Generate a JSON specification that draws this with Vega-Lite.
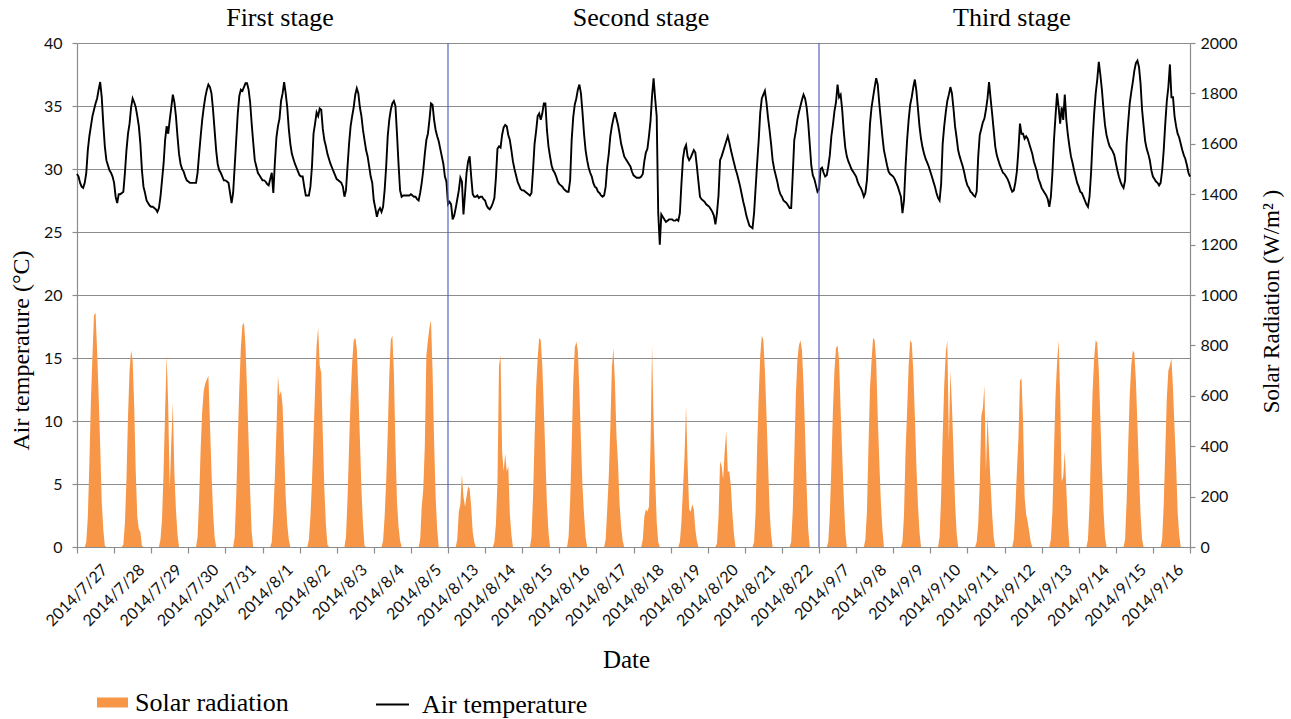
{
"$schema": "https://vega.github.io/schema/vega-lite/v6.json",
"width": 1113,
"height": 504,
"autosize": "none",
"padding": {"left": 77, "top": 43, "right": 101, "bottom": 172},
"background": "white",
"config": {"view": {"stroke": null}, "font": "Liberation Serif"},
"datasets": {
"series": [
{"t":0,"T":29.6,"R":0},{"t":1,"T":29.4,"R":0},{"t":2,"T":28.9,"R":0},{"t":3,"T":28.6,"R":0},{"t":4,"T":28.5,"R":0},{"t":5,"T":28.9,"R":0},{"t":6,"T":29.7,"R":20},{"t":7,"T":31.5,"R":120},{"t":8,"T":32.6,"R":330},{"t":9,"T":33.4,"R":580},{"t":10,"T":34.2,"R":760},{"t":11,"T":34.7,"R":920},{"t":12,"T":35.2,"R":930},{"t":13,"T":35.6,"R":780},{"t":14,"T":36.3,"R":600},{"t":15,"T":36.9,"R":400},{"t":16,"T":35.7,"R":180},{"t":17,"T":33.6,"R":70},{"t":18,"T":31.8,"R":5},{"t":19,"T":30.7,"R":0},{"t":20,"T":30.3,"R":0},{"t":21,"T":29.9,"R":0},{"t":22,"T":29.7,"R":0},{"t":23,"T":29.4,"R":0},
{"t":24,"T":28.9,"R":0},{"t":25,"T":27.8,"R":0},{"t":26,"T":27.3,"R":0},{"t":27,"T":28.0,"R":0},{"t":28,"T":28.0,"R":0},{"t":29,"T":28.1,"R":0},{"t":30,"T":28.2,"R":10},{"t":31,"T":29.7,"R":95},{"t":32,"T":31.5,"R":270},{"t":33,"T":32.8,"R":520},{"t":34,"T":33.6,"R":700},{"t":35,"T":34.9,"R":780},{"t":36,"T":35.6,"R":740},{"t":37,"T":35.3,"R":560},{"t":38,"T":34.9,"R":300},{"t":39,"T":34.2,"R":120},{"t":40,"T":33.4,"R":70},{"t":41,"T":32.0,"R":60},{"t":42,"T":29.9,"R":5},{"t":43,"T":28.6,"R":0},{"t":44,"T":28.1,"R":0},{"t":45,"T":27.5,"R":0},{"t":46,"T":27.3,"R":0},{"t":47,"T":27.1,"R":0},
{"t":48,"T":27.0,"R":0},{"t":49,"T":27.0,"R":0},{"t":50,"T":26.9,"R":0},{"t":51,"T":26.8,"R":0},{"t":52,"T":26.6,"R":0},{"t":53,"T":26.9,"R":0},{"t":54,"T":27.8,"R":30},{"t":55,"T":29.1,"R":110},{"t":56,"T":30.4,"R":300},{"t":57,"T":32.3,"R":540},{"t":58,"T":33.4,"R":760},{"t":59,"T":32.8,"R":560},{"t":60,"T":33.9,"R":230},{"t":61,"T":34.9,"R":420},{"t":62,"T":35.9,"R":570},{"t":63,"T":35.3,"R":290},{"t":64,"T":34.2,"R":150},{"t":65,"T":32.6,"R":50},{"t":66,"T":31.2,"R":0},{"t":67,"T":30.4,"R":0},{"t":68,"T":30.0,"R":0},{"t":69,"T":29.8,"R":0},{"t":70,"T":29.4,"R":0},{"t":71,"T":29.1,"R":0},
{"t":72,"T":29.0,"R":0},{"t":73,"T":28.9,"R":0},{"t":74,"T":28.9,"R":0},{"t":75,"T":28.9,"R":0},{"t":76,"T":28.9,"R":0},{"t":77,"T":28.9,"R":0},{"t":78,"T":29.7,"R":40},{"t":79,"T":31.2,"R":190},{"t":80,"T":32.6,"R":390},{"t":81,"T":33.9,"R":540},{"t":82,"T":34.9,"R":620},{"t":83,"T":35.7,"R":650},{"t":84,"T":36.3,"R":665},{"t":85,"T":36.7,"R":680},{"t":86,"T":36.5,"R":490},{"t":87,"T":36.0,"R":300},{"t":88,"T":34.7,"R":140},{"t":89,"T":33.1,"R":40},{"t":90,"T":31.5,"R":0},{"t":91,"T":30.4,"R":0},{"t":92,"T":29.9,"R":0},{"t":93,"T":29.7,"R":0},{"t":94,"T":29.4,"R":0},{"t":95,"T":29.1,"R":0},
{"t":96,"T":29.1,"R":0},{"t":97,"T":29.0,"R":0},{"t":98,"T":28.9,"R":0},{"t":99,"T":28.1,"R":0},{"t":100,"T":27.3,"R":0},{"t":101,"T":28.1,"R":0},{"t":102,"T":30.2,"R":40},{"t":103,"T":32.3,"R":200},{"t":104,"T":34.4,"R":420},{"t":105,"T":35.8,"R":630},{"t":106,"T":36.3,"R":790},{"t":107,"T":36.2,"R":880},{"t":108,"T":36.5,"R":890},{"t":109,"T":36.8,"R":800},{"t":110,"T":36.8,"R":620},{"t":111,"T":36.3,"R":420},{"t":112,"T":35.3,"R":220},{"t":113,"T":33.6,"R":60},{"t":114,"T":32.1,"R":0},{"t":115,"T":30.7,"R":0},{"t":116,"T":30.2,"R":0},{"t":117,"T":29.7,"R":0},{"t":118,"T":29.5,"R":0},{"t":119,"T":29.3,"R":0},
{"t":120,"T":29.1,"R":0},{"t":121,"T":29.1,"R":0},{"t":122,"T":29.0,"R":0},{"t":123,"T":28.8,"R":0},{"t":124,"T":28.7,"R":0},{"t":125,"T":29.2,"R":0},{"t":126,"T":29.7,"R":20},{"t":127,"T":28.1,"R":130},{"t":128,"T":30.5,"R":280},{"t":129,"T":32.5,"R":460},{"t":130,"T":33.4,"R":680},{"t":131,"T":34.0,"R":600},{"t":132,"T":35.4,"R":620},{"t":133,"T":36.0,"R":560},{"t":134,"T":36.9,"R":380},{"t":135,"T":36.0,"R":200},{"t":136,"T":34.9,"R":90},{"t":137,"T":33.2,"R":30},{"t":138,"T":32.0,"R":0},{"t":139,"T":31.2,"R":0},{"t":140,"T":30.8,"R":0},{"t":141,"T":30.4,"R":0},{"t":142,"T":30.1,"R":0},{"t":143,"T":29.8,"R":0},
{"t":144,"T":29.5,"R":0},{"t":145,"T":29.4,"R":0},{"t":146,"T":29.4,"R":0},{"t":147,"T":28.6,"R":0},{"t":148,"T":27.9,"R":0},{"t":149,"T":27.9,"R":0},{"t":150,"T":27.9,"R":30},{"t":151,"T":28.6,"R":120},{"t":152,"T":30.2,"R":260},{"t":153,"T":32.8,"R":440},{"t":154,"T":33.6,"R":620},{"t":155,"T":34.5,"R":800},{"t":156,"T":34.2,"R":870},{"t":157,"T":34.8,"R":720},{"t":158,"T":34.7,"R":690},{"t":159,"T":33.2,"R":450},{"t":160,"T":32.3,"R":230},{"t":161,"T":31.8,"R":90},{"t":162,"T":31.2,"R":10},{"t":163,"T":30.8,"R":0},{"t":164,"T":30.4,"R":0},{"t":165,"T":30.1,"R":0},{"t":166,"T":29.8,"R":0},{"t":167,"T":29.5,"R":0},
{"t":168,"T":29.2,"R":0},{"t":169,"T":29.1,"R":0},{"t":170,"T":29.0,"R":0},{"t":171,"T":28.9,"R":0},{"t":172,"T":28.6,"R":0},{"t":173,"T":27.8,"R":0},{"t":174,"T":28.3,"R":40},{"t":175,"T":30.2,"R":190},{"t":176,"T":32.0,"R":400},{"t":177,"T":33.4,"R":590},{"t":178,"T":34.2,"R":730},{"t":179,"T":34.9,"R":820},{"t":180,"T":35.9,"R":830},{"t":181,"T":36.4,"R":790},{"t":182,"T":36.0,"R":620},{"t":183,"T":34.9,"R":430},{"t":184,"T":34.2,"R":230},{"t":185,"T":33.1,"R":90},{"t":186,"T":32.3,"R":5},{"t":187,"T":31.5,"R":0},{"t":188,"T":31.0,"R":0},{"t":189,"T":30.2,"R":0},{"t":190,"T":29.4,"R":0},{"t":191,"T":28.9,"R":0},
{"t":192,"T":27.5,"R":0},{"t":193,"T":26.9,"R":0},{"t":194,"T":26.2,"R":0},{"t":195,"T":26.7,"R":0},{"t":196,"T":26.9,"R":0},{"t":197,"T":26.6,"R":0},{"t":198,"T":27.0,"R":25},{"t":199,"T":28.3,"R":120},{"t":200,"T":30.2,"R":260},{"t":201,"T":32.6,"R":450},{"t":202,"T":33.9,"R":680},{"t":203,"T":34.7,"R":820},{"t":204,"T":35.2,"R":840},{"t":205,"T":35.4,"R":690},{"t":206,"T":35.0,"R":400},{"t":207,"T":32.8,"R":180},{"t":208,"T":30.4,"R":80},{"t":209,"T":28.3,"R":25},{"t":210,"T":27.8,"R":0},{"t":211,"T":27.9,"R":0},{"t":212,"T":27.9,"R":0},{"t":213,"T":27.9,"R":0},{"t":214,"T":27.9,"R":0},{"t":215,"T":27.9,"R":0},
{"t":216,"T":28.0,"R":0},{"t":217,"T":27.9,"R":0},{"t":218,"T":27.8,"R":0},{"t":219,"T":27.8,"R":0},{"t":220,"T":27.6,"R":0},{"t":221,"T":27.5,"R":0},{"t":222,"T":28.1,"R":30},{"t":223,"T":28.9,"R":160},{"t":224,"T":29.9,"R":230},{"t":225,"T":31.2,"R":400},{"t":226,"T":32.3,"R":760},{"t":227,"T":32.8,"R":820},{"t":228,"T":33.9,"R":870},{"t":229,"T":35.2,"R":900},{"t":230,"T":35.1,"R":700},{"t":231,"T":33.9,"R":420},{"t":232,"T":33.1,"R":200},{"t":233,"T":32.6,"R":70},{"t":234,"T":32.2,"R":0},{"t":235,"T":31.6,"R":0},{"t":236,"T":31.0,"R":0},{"t":237,"T":30.4,"R":0},{"t":238,"T":29.4,"R":0},{"t":239,"T":29.0,"R":0},
{"t":240,"T":27.2,"R":0},{"t":241,"T":27.4,"R":0},{"t":242,"T":27.2,"R":0},{"t":243,"T":26.0,"R":0},{"t":244,"T":26.3,"R":0},{"t":245,"T":26.9,"R":0},{"t":246,"T":27.6,"R":30},{"t":247,"T":28.3,"R":140},{"t":248,"T":29.3,"R":170},{"t":249,"T":29.0,"R":290},{"t":250,"T":26.4,"R":200},{"t":251,"T":28.0,"R":160},{"t":252,"T":29.7,"R":200},{"t":253,"T":30.6,"R":240},{"t":254,"T":31.0,"R":230},{"t":255,"T":29.4,"R":160},{"t":256,"T":28.0,"R":60},{"t":257,"T":27.8,"R":20},{"t":258,"T":27.8,"R":0},{"t":259,"T":27.9,"R":0},{"t":260,"T":27.7,"R":0},{"t":261,"T":27.8,"R":0},{"t":262,"T":27.8,"R":0},{"t":263,"T":27.6,"R":0},
{"t":264,"T":27.5,"R":0},{"t":265,"T":27.1,"R":0},{"t":266,"T":26.9,"R":0},{"t":267,"T":26.8,"R":0},{"t":268,"T":27.0,"R":0},{"t":269,"T":27.3,"R":0},{"t":270,"T":27.7,"R":20},{"t":271,"T":29.3,"R":90},{"t":272,"T":31.6,"R":260},{"t":273,"T":31.8,"R":720},{"t":274,"T":31.7,"R":760},{"t":275,"T":32.7,"R":380},{"t":276,"T":33.3,"R":300},{"t":277,"T":33.5,"R":370},{"t":278,"T":33.4,"R":300},{"t":279,"T":32.7,"R":320},{"t":280,"T":32.3,"R":130},{"t":281,"T":31.5,"R":50},{"t":282,"T":30.6,"R":0},{"t":283,"T":30.0,"R":0},{"t":284,"T":29.5,"R":0},{"t":285,"T":29.0,"R":0},{"t":286,"T":28.7,"R":0},{"t":287,"T":28.4,"R":0},
{"t":288,"T":28.3,"R":0},{"t":289,"T":28.3,"R":0},{"t":290,"T":28.2,"R":0},{"t":291,"T":28.1,"R":0},{"t":292,"T":28.0,"R":0},{"t":293,"T":27.9,"R":0},{"t":294,"T":28.1,"R":40},{"t":295,"T":29.9,"R":200},{"t":296,"T":32.0,"R":430},{"t":297,"T":33.0,"R":630},{"t":298,"T":34.2,"R":750},{"t":299,"T":34.4,"R":830},{"t":300,"T":33.9,"R":820},{"t":301,"T":34.4,"R":720},{"t":302,"T":35.2,"R":550},{"t":303,"T":35.2,"R":360},{"t":304,"T":33.1,"R":170},{"t":305,"T":31.8,"R":60},{"t":306,"T":31.0,"R":0},{"t":307,"T":30.3,"R":0},{"t":308,"T":29.9,"R":0},{"t":309,"T":29.7,"R":0},{"t":310,"T":29.4,"R":0},{"t":311,"T":29.0,"R":0},
{"t":312,"T":28.8,"R":0},{"t":313,"T":28.7,"R":0},{"t":314,"T":28.6,"R":0},{"t":315,"T":28.4,"R":0},{"t":316,"T":28.3,"R":0},{"t":317,"T":28.2,"R":0},{"t":318,"T":28.2,"R":40},{"t":319,"T":29.1,"R":180},{"t":320,"T":32.3,"R":400},{"t":321,"T":34.1,"R":650},{"t":322,"T":35.1,"R":790},{"t":323,"T":35.6,"R":815},{"t":324,"T":36.3,"R":780},{"t":325,"T":36.7,"R":620},{"t":326,"T":36.0,"R":420},{"t":327,"T":34.5,"R":240},{"t":328,"T":32.8,"R":130},{"t":329,"T":31.5,"R":40},{"t":330,"T":30.7,"R":0},{"t":331,"T":30.1,"R":0},{"t":332,"T":29.7,"R":0},{"t":333,"T":29.4,"R":0},{"t":334,"T":28.9,"R":0},{"t":335,"T":28.6,"R":0},
{"t":336,"T":28.5,"R":0},{"t":337,"T":28.2,"R":0},{"t":338,"T":28.1,"R":0},{"t":339,"T":27.9,"R":0},{"t":340,"T":27.8,"R":0},{"t":341,"T":27.9,"R":0},{"t":342,"T":28.6,"R":30},{"t":343,"T":30.2,"R":150},{"t":344,"T":31.2,"R":280},{"t":345,"T":32.6,"R":470},{"t":346,"T":33.4,"R":710},{"t":347,"T":34.0,"R":790},{"t":348,"T":34.5,"R":650},{"t":349,"T":34.0,"R":440},{"t":350,"T":33.5,"R":330},{"t":351,"T":32.8,"R":170},{"t":352,"T":32.0,"R":80},{"t":353,"T":31.5,"R":25},{"t":354,"T":31.0,"R":0},{"t":355,"T":30.8,"R":0},{"t":356,"T":30.6,"R":0},{"t":357,"T":30.4,"R":0},{"t":358,"T":30.2,"R":0},{"t":359,"T":29.8,"R":0},
{"t":360,"T":29.5,"R":0},{"t":361,"T":29.4,"R":0},{"t":362,"T":29.3,"R":0},{"t":363,"T":29.3,"R":0},{"t":364,"T":29.3,"R":0},{"t":365,"T":29.4,"R":0},{"t":366,"T":29.6,"R":30},{"t":367,"T":30.6,"R":120},{"t":368,"T":31.3,"R":150},{"t":369,"T":31.6,"R":140},{"t":370,"T":32.6,"R":160},{"t":371,"T":33.8,"R":400},{"t":372,"T":35.8,"R":800},{"t":373,"T":37.2,"R":500},{"t":374,"T":35.6,"R":280},{"t":375,"T":34.2,"R":100},{"t":376,"T":26.5,"R":20},{"t":377,"T":24.0,"R":0},{"t":378,"T":26.4,"R":0},{"t":379,"T":26.2,"R":0},{"t":380,"T":26.0,"R":0},{"t":381,"T":25.8,"R":0},{"t":382,"T":25.9,"R":0},{"t":383,"T":26.0,"R":0},
{"t":384,"T":26.0,"R":0},{"t":385,"T":26.0,"R":0},{"t":386,"T":25.9,"R":0},{"t":387,"T":25.9,"R":0},{"t":388,"T":26.0,"R":0},{"t":389,"T":25.9,"R":0},{"t":390,"T":26.5,"R":20},{"t":391,"T":28.8,"R":100},{"t":392,"T":30.8,"R":230},{"t":393,"T":31.6,"R":360},{"t":394,"T":31.9,"R":560},{"t":395,"T":31.0,"R":330},{"t":396,"T":30.7,"R":150},{"t":397,"T":30.9,"R":140},{"t":398,"T":31.2,"R":170},{"t":399,"T":31.5,"R":150},{"t":400,"T":31.3,"R":70},{"t":401,"T":30.2,"R":25},{"t":402,"T":29.0,"R":0},{"t":403,"T":27.8,"R":0},{"t":404,"T":27.6,"R":0},{"t":405,"T":27.5,"R":0},{"t":406,"T":27.4,"R":0},{"t":407,"T":27.2,"R":0},
{"t":408,"T":27.1,"R":0},{"t":409,"T":27.0,"R":0},{"t":410,"T":26.8,"R":0},{"t":411,"T":26.6,"R":0},{"t":412,"T":26.3,"R":0},{"t":413,"T":25.6,"R":0},{"t":414,"T":26.5,"R":15},{"t":415,"T":27.9,"R":120},{"t":416,"T":30.7,"R":340},{"t":417,"T":31.0,"R":320},{"t":418,"T":31.4,"R":270},{"t":419,"T":31.8,"R":380},{"t":420,"T":32.2,"R":460},{"t":421,"T":32.6,"R":300},{"t":422,"T":32.1,"R":300},{"t":423,"T":31.5,"R":240},{"t":424,"T":31.0,"R":130},{"t":425,"T":30.5,"R":50},{"t":426,"T":30.0,"R":0},{"t":427,"T":29.6,"R":0},{"t":428,"T":29.1,"R":0},{"t":429,"T":28.6,"R":0},{"t":430,"T":28.0,"R":0},{"t":431,"T":27.4,"R":0},
{"t":432,"T":26.9,"R":0},{"t":433,"T":26.3,"R":0},{"t":434,"T":25.9,"R":0},{"t":435,"T":25.5,"R":0},{"t":436,"T":25.4,"R":0},{"t":437,"T":25.3,"R":0},{"t":438,"T":26.5,"R":20},{"t":439,"T":28.5,"R":140},{"t":440,"T":30.5,"R":400},{"t":441,"T":32.3,"R":600},{"t":442,"T":34.5,"R":760},{"t":443,"T":35.6,"R":840},{"t":444,"T":35.9,"R":820},{"t":445,"T":36.2,"R":700},{"t":446,"T":35.3,"R":530},{"t":447,"T":34.1,"R":340},{"t":448,"T":33.1,"R":150},{"t":449,"T":32.0,"R":50},{"t":450,"T":30.7,"R":0},{"t":451,"T":30.0,"R":0},{"t":452,"T":29.5,"R":0},{"t":453,"T":29.0,"R":0},{"t":454,"T":28.4,"R":0},{"t":455,"T":28.0,"R":0},
{"t":456,"T":27.8,"R":0},{"t":457,"T":27.5,"R":0},{"t":458,"T":27.4,"R":0},{"t":459,"T":27.3,"R":0},{"t":460,"T":27.1,"R":0},{"t":461,"T":26.9,"R":0},{"t":462,"T":26.9,"R":20},{"t":463,"T":29.5,"R":140},{"t":464,"T":32.3,"R":360},{"t":465,"T":33.0,"R":600},{"t":466,"T":33.9,"R":740},{"t":467,"T":34.5,"R":800},{"t":468,"T":35.0,"R":820},{"t":469,"T":35.5,"R":780},{"t":470,"T":35.9,"R":640},{"t":471,"T":35.6,"R":450},{"t":472,"T":34.9,"R":240},{"t":473,"T":33.7,"R":70},{"t":474,"T":32.0,"R":0},{"t":475,"T":30.3,"R":0},{"t":476,"T":29.5,"R":0},{"t":477,"T":29.2,"R":0},{"t":478,"T":28.7,"R":0},{"t":479,"T":28.2,"R":0},
{"t":480,"T":28.4,"R":0},{"t":481,"T":30.0,"R":0},{"t":482,"T":30.1,"R":0},{"t":483,"T":29.7,"R":0},{"t":484,"T":29.4,"R":0},{"t":485,"T":29.5,"R":0},{"t":486,"T":30.2,"R":20},{"t":487,"T":31.1,"R":130},{"t":488,"T":32.6,"R":320},{"t":489,"T":33.5,"R":540},{"t":490,"T":34.6,"R":700},{"t":491,"T":35.3,"R":790},{"t":492,"T":36.7,"R":800},{"t":493,"T":35.7,"R":740},{"t":494,"T":35.9,"R":540},{"t":495,"T":34.7,"R":370},{"t":496,"T":33.0,"R":200},{"t":497,"T":31.7,"R":60},{"t":498,"T":31.0,"R":0},{"t":499,"T":30.6,"R":0},{"t":500,"T":30.3,"R":0},{"t":501,"T":30.0,"R":0},{"t":502,"T":29.8,"R":0},{"t":503,"T":29.6,"R":0},
{"t":504,"T":29.4,"R":0},{"t":505,"T":29.0,"R":0},{"t":506,"T":28.7,"R":0},{"t":507,"T":28.5,"R":0},{"t":508,"T":28.2,"R":0},{"t":509,"T":27.8,"R":0},{"t":510,"T":28.1,"R":30},{"t":511,"T":29.1,"R":140},{"t":512,"T":31.2,"R":400},{"t":513,"T":33.6,"R":630},{"t":514,"T":34.9,"R":740},{"t":515,"T":35.7,"R":830},{"t":516,"T":36.5,"R":820},{"t":517,"T":37.2,"R":740},{"t":518,"T":36.7,"R":520},{"t":519,"T":35.2,"R":340},{"t":520,"T":33.9,"R":180},{"t":521,"T":32.6,"R":70},{"t":522,"T":31.5,"R":0},{"t":523,"T":30.9,"R":0},{"t":524,"T":30.3,"R":0},{"t":525,"T":29.8,"R":0},{"t":526,"T":29.6,"R":0},{"t":527,"T":29.5,"R":0},
{"t":528,"T":29.4,"R":0},{"t":529,"T":29.2,"R":0},{"t":530,"T":28.9,"R":0},{"t":531,"T":28.6,"R":0},{"t":532,"T":28.2,"R":0},{"t":533,"T":27.8,"R":0},{"t":534,"T":26.5,"R":20},{"t":535,"T":27.5,"R":130},{"t":536,"T":30.2,"R":380},{"t":537,"T":32.3,"R":540},{"t":538,"T":33.9,"R":720},{"t":539,"T":35.1,"R":820},{"t":540,"T":35.7,"R":810},{"t":541,"T":36.5,"R":700},{"t":542,"T":37.1,"R":520},{"t":543,"T":36.2,"R":320},{"t":544,"T":34.8,"R":170},{"t":545,"T":33.4,"R":60},{"t":546,"T":32.4,"R":0},{"t":547,"T":31.7,"R":0},{"t":548,"T":31.2,"R":0},{"t":549,"T":30.8,"R":0},{"t":550,"T":30.5,"R":0},{"t":551,"T":30.2,"R":0},
{"t":552,"T":29.8,"R":0},{"t":553,"T":29.4,"R":0},{"t":554,"T":29.0,"R":0},{"t":555,"T":28.6,"R":0},{"t":556,"T":28.1,"R":0},{"t":557,"T":27.7,"R":0},{"t":558,"T":27.5,"R":40},{"t":559,"T":28.8,"R":200},{"t":560,"T":32.0,"R":440},{"t":561,"T":33.4,"R":640},{"t":562,"T":34.5,"R":770},{"t":563,"T":35.4,"R":820},{"t":564,"T":35.9,"R":420},{"t":565,"T":36.5,"R":700},{"t":566,"T":36.0,"R":560},{"t":567,"T":34.8,"R":380},{"t":568,"T":33.4,"R":180},{"t":569,"T":32.5,"R":60},{"t":570,"T":31.5,"R":0},{"t":571,"T":31.0,"R":0},{"t":572,"T":30.6,"R":0},{"t":573,"T":30.2,"R":0},{"t":574,"T":29.7,"R":0},{"t":575,"T":29.1,"R":0},
{"t":576,"T":28.7,"R":0},{"t":577,"T":28.5,"R":0},{"t":578,"T":28.2,"R":0},{"t":579,"T":28.1,"R":0},{"t":580,"T":27.9,"R":0},{"t":581,"T":27.8,"R":0},{"t":582,"T":28.2,"R":20},{"t":583,"T":31.0,"R":90},{"t":584,"T":32.7,"R":260},{"t":585,"T":33.2,"R":520},{"t":586,"T":33.7,"R":550},{"t":587,"T":34.0,"R":640},{"t":588,"T":34.7,"R":300},{"t":589,"T":35.6,"R":520},{"t":590,"T":36.9,"R":380},{"t":591,"T":35.6,"R":250},{"t":592,"T":34.4,"R":130},{"t":593,"T":33.1,"R":40},{"t":594,"T":31.8,"R":0},{"t":595,"T":31.1,"R":0},{"t":596,"T":30.7,"R":0},{"t":597,"T":30.3,"R":0},{"t":598,"T":30.0,"R":0},{"t":599,"T":29.7,"R":0},
{"t":600,"T":29.6,"R":0},{"t":601,"T":29.4,"R":0},{"t":602,"T":29.2,"R":0},{"t":603,"T":28.9,"R":0},{"t":604,"T":28.5,"R":0},{"t":605,"T":28.2,"R":0},{"t":606,"T":28.3,"R":30},{"t":607,"T":28.9,"R":150},{"t":608,"T":29.8,"R":300},{"t":609,"T":31.5,"R":430},{"t":610,"T":33.6,"R":660},{"t":611,"T":32.8,"R":670},{"t":612,"T":32.8,"R":500},{"t":613,"T":32.4,"R":200},{"t":614,"T":32.6,"R":130},{"t":615,"T":32.4,"R":100},{"t":616,"T":32.0,"R":60},{"t":617,"T":31.6,"R":20},{"t":618,"T":31.2,"R":0},{"t":619,"T":30.6,"R":0},{"t":620,"T":30.2,"R":0},{"t":621,"T":29.8,"R":0},{"t":622,"T":29.2,"R":0},{"t":623,"T":28.9,"R":0},
{"t":624,"T":28.5,"R":0},{"t":625,"T":28.3,"R":0},{"t":626,"T":28.1,"R":0},{"t":627,"T":27.9,"R":0},{"t":628,"T":27.6,"R":0},{"t":629,"T":27.0,"R":0},{"t":630,"T":27.8,"R":30},{"t":631,"T":29.7,"R":140},{"t":632,"T":32.3,"R":380},{"t":633,"T":34.2,"R":600},{"t":634,"T":36.0,"R":730},{"t":635,"T":34.9,"R":820},{"t":636,"T":33.6,"R":600},{"t":637,"T":34.9,"R":260},{"t":638,"T":33.9,"R":280},{"t":639,"T":35.9,"R":380},{"t":640,"T":33.9,"R":230},{"t":641,"T":32.7,"R":90},{"t":642,"T":31.8,"R":0},{"t":643,"T":31.0,"R":0},{"t":644,"T":30.5,"R":0},{"t":645,"T":29.9,"R":0},{"t":646,"T":29.4,"R":0},{"t":647,"T":28.9,"R":0},
{"t":648,"T":28.6,"R":0},{"t":649,"T":28.2,"R":0},{"t":650,"T":28.1,"R":0},{"t":651,"T":27.8,"R":0},{"t":652,"T":27.5,"R":0},{"t":653,"T":27.2,"R":0},{"t":654,"T":27.0,"R":30},{"t":655,"T":27.8,"R":170},{"t":656,"T":29.7,"R":400},{"t":657,"T":32.3,"R":620},{"t":658,"T":34.4,"R":750},{"t":659,"T":36.0,"R":820},{"t":660,"T":37.1,"R":810},{"t":661,"T":38.5,"R":700},{"t":662,"T":37.5,"R":510},{"t":663,"T":36.3,"R":320},{"t":664,"T":34.8,"R":150},{"t":665,"T":33.5,"R":40},{"t":666,"T":32.7,"R":0},{"t":667,"T":32.2,"R":0},{"t":668,"T":31.8,"R":0},{"t":669,"T":31.6,"R":0},{"t":670,"T":31.4,"R":0},{"t":671,"T":31.1,"R":0},
{"t":672,"T":30.5,"R":0},{"t":673,"T":29.9,"R":0},{"t":674,"T":29.4,"R":0},{"t":675,"T":29.0,"R":0},{"t":676,"T":28.7,"R":0},{"t":677,"T":28.5,"R":0},{"t":678,"T":29.1,"R":30},{"t":679,"T":32.0,"R":180},{"t":680,"T":33.7,"R":400},{"t":681,"T":35.2,"R":600},{"t":682,"T":36.1,"R":720},{"t":683,"T":36.9,"R":780},{"t":684,"T":37.8,"R":770},{"t":685,"T":38.4,"R":660},{"t":686,"T":38.6,"R":480},{"t":687,"T":38.1,"R":300},{"t":688,"T":36.8,"R":130},{"t":689,"T":34.7,"R":30},{"t":690,"T":33.4,"R":0},{"t":691,"T":32.2,"R":0},{"t":692,"T":31.6,"R":0},{"t":693,"T":31.2,"R":0},{"t":694,"T":30.7,"R":0},{"t":695,"T":29.9,"R":0},
{"t":696,"T":29.4,"R":0},{"t":697,"T":29.2,"R":0},{"t":698,"T":29.0,"R":0},{"t":699,"T":28.9,"R":0},{"t":700,"T":28.7,"R":0},{"t":701,"T":28.9,"R":0},{"t":702,"T":29.9,"R":30},{"t":703,"T":31.5,"R":170},{"t":704,"T":33.6,"R":380},{"t":705,"T":35.4,"R":590},{"t":706,"T":36.5,"R":700},{"t":707,"T":38.3,"R":720},{"t":708,"T":35.7,"R":750},{"t":709,"T":35.7,"R":630},{"t":710,"T":34.2,"R":470},{"t":711,"T":33.4,"R":330},{"t":712,"T":32.8,"R":140},{"t":713,"T":32.5,"R":50},{"t":714,"T":32.0,"R":0},{"t":715,"T":31.5,"R":0},{"t":716,"T":31.1,"R":0},{"t":717,"T":30.8,"R":0},{"t":718,"T":30.3,"R":0},{"t":719,"T":29.7,"R":0},
{"t":720,"T":29.4,"R":0}
],
"bounds": [{"t":240},{"t":480}],
"stages": [{"stage":"First stage","t":131.3},{"stage":"Second stage","t":364.9},{"stage":"Third stage","t":604.8}]
},
"layer": [
{
"data": {"name": "series"},
"mark": {"type": "area", "interpolate": "linear", "opacity": 1},
"encoding": {
"x": {"field": "t", "type": "quantitative", "scale": {"domain": [0, 720], "nice": false, "zero": false},
"axis": {"orient": "bottom", "values": [0,24,48,72,96,120,144,168,192,216,240,264,288,312,336,360,384,408,432,456,480,504,528,552,576,600,624,648,672,696,720], "labels": false, "ticks": true, "tickSize": 6, "tickColor": "#8c8c8c", "tickWidth": 1.2, "domain": true, "domainColor": "#8c8c8c", "domainWidth": 1.2, "grid": false, "title": null}},
"y": {"field": "R", "type": "quantitative", "scale": {"domain": [0, 2000], "nice": false},
"axis": {"orient": "right", "values": [0,200,400,600,800,1000,1200,1400,1600,1800,2000], "format": "d", "grid": false, "tickSize": 5, "tickColor": "#8c8c8c", "tickWidth": 1.2, "domain": true, "domainColor": "#8c8c8c", "domainWidth": 1.2, "labelPadding": 5, "labelFont": "Lato", "labelFontSize": 16, "labelColor": "#111111", "title": "Solar Radiation (W/m² )", "titleFont": "Liberation Serif", "titleFontSize": 23, "titleFontWeight": "normal", "titleColor": "black", "titleAngle": -90, "titleAlign": "center", "titleBaseline": "bottom", "titleX": 93, "titleY": 258}},
"fill": {"datum": "Solar radiation", "scale": {"range": ["#F79646"]},
"legend": {"orient": "none", "legendX": 20, "legendY": 644, "title": null, "symbolType": "M-1,-0.3226H1V0.3226H-1Z", "symbolSize": 961, "symbolStrokeWidth": 0, "symbolOpacity": 1, "labelFont": "Liberation Serif", "labelFontSize": 26, "labelColor": "black", "labelOffset": 7, "labelLimit": 400}}
}
},
{
"data": {"name": "series"},
"mark": {"type": "line", "strokeWidth": 1.9},
"encoding": {
"x": {"field": "t", "type": "quantitative",
"axis": {"orient": "bottom", "values": [12,36,60,84,108,132,156,180,204,228,252,276,300,324,348,372,396,420,444,468,492,516,540,564,588,612,636,660,684,708], "labelExpr": "['2014/7/27','2014/7/28','2014/7/29','2014/7/30','2014/7/31','2014/8/1','2014/8/2','2014/8/3','2014/8/4','2014/8/5','2014/8/13','2014/8/14','2014/8/15','2014/8/16','2014/8/17','2014/8/18','2014/8/19','2014/8/20','2014/8/21','2014/8/22','2014/9/7','2014/9/8','2014/9/9','2014/9/10','2014/9/11','2014/9/12','2014/9/13','2014/9/14','2014/9/15','2014/9/16'][round((datum.value-12)/24)]", "ticks": false, "tickSize": 0, "domain": false, "grid": false, "labelAngle": -45, "labelAlign": "right", "labelBaseline": "middle", "labelOffset": 9, "labelPadding": 20, "labelOverlap": false, "labelBound": false, "labelFlush": false, "labelFont": "Lato", "labelFontSize": 16, "labelColor": "#111111", "title": "Date", "titleFont": "Liberation Serif", "titleFontSize": 25, "titleFontWeight": "normal", "titleColor": "black", "titleAngle": 0, "titleAlign": "center", "titleBaseline": "alphabetic", "titleX": 549, "titleY": 120}},
"y": {"field": "T", "type": "quantitative", "scale": {"domain": [0, 40], "nice": false},
"axis": {"orient": "left", "values": [0,5,10,15,20,25,30,35,40], "grid": true, "gridColor": "#8c8c8c", "gridWidth": 1.2, "tickSize": 5, "tickColor": "#8c8c8c", "tickWidth": 1.2, "domain": true, "domainColor": "#8c8c8c", "domainWidth": 1.2, "labelPadding": 10, "labelFont": "Lato", "labelFontSize": 16, "labelColor": "#111111", "title": "Air temperature (°C)", "titleFont": "Liberation Serif", "titleFontSize": 24, "titleFontWeight": "normal", "titleColor": "black", "titleAngle": -90, "titleAlign": "center", "titleBaseline": "bottom", "titleX": -44, "titleY": 307}},
"stroke": {"datum": "Air temperature", "scale": {"range": ["black"]},
"legend": {"orient": "none", "legendX": 298, "legendY": 644, "title": null, "symbolType": "stroke", "symbolSize": 1089, "symbolStrokeWidth": 2, "labelFont": "Liberation Serif", "labelFontSize": 26, "labelColor": "black", "labelOffset": 12, "labelLimit": 400}}
}
},
{
"data": {"name": "bounds"},
"mark": {"type": "rule", "color": "#5767bd", "strokeWidth": 1.2},
"encoding": {"x": {"field": "t", "type": "quantitative", "axis": null}}
},
{
"data": {"name": "stages"},
"mark": {"type": "text", "font": "Liberation Serif", "fontSize": 26, "align": "center", "baseline": "alphabetic", "color": "black"},
"encoding": {
"x": {"field": "t", "type": "quantitative", "axis": null},
"y": {"datum": 41.35, "type": "quantitative", "scale": {"domain": [0, 40], "nice": false}, "axis": null},
"text": {"field": "stage"}
}
}
],
"resolve": {"scale": {"y": "independent", "fill": "independent", "stroke": "independent"}, "axis": {"x": "independent"}}
}
